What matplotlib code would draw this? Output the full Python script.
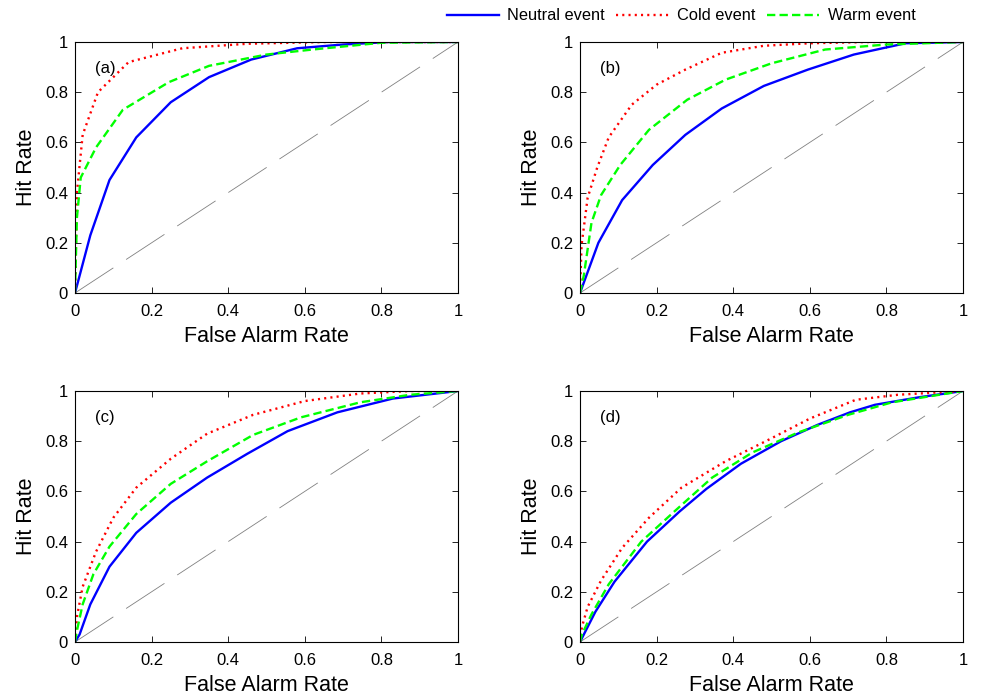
import matplotlib
matplotlib.use("Agg")
import matplotlib.pyplot as plt

plt.rcParams['font.family'] = ['Liberation Sans', 'DejaVu Sans']
plt.rcParams['lines.scale_dashes'] = False

panel_labels = ["(a)", "(b)", "(c)", "(d)"]
series_names = ["Neutral event", "Cold event", "Warm event"]
ticks = [0, 0.2, 0.4, 0.6, 0.8, 1]
tick_labels = ["0", "0.2", "0.4", "0.6", "0.8", "1"]

# Panel (a)
a_neutral_x = [0, 0.04, 0.09, 0.16, 0.25, 0.35, 0.46, 0.58, 0.70, 0.82, 1]
a_neutral_y = [0, 0.23, 0.45, 0.62, 0.76, 0.86, 0.93, 0.975, 0.99, 1.0, 1]
a_cold_x = [0, 0.005, 0.02, 0.06, 0.14, 0.28, 0.45, 0.65, 1]
a_cold_y = [0, 0.40, 0.63, 0.80, 0.92, 0.975, 0.993, 1.0, 1]
a_warm_x = [0, 0.005, 0.015, 0.055, 0.125, 0.245, 0.35, 0.5, 0.62, 0.8, 1]
a_warm_y = [0, 0.30, 0.46, 0.58, 0.73, 0.84, 0.905, 0.95, 0.97, 0.997, 1]

# Panel (b)
b_neutral_x = [0, 0.048, 0.11, 0.19, 0.275, 0.37, 0.48, 0.595, 0.715, 0.85, 1]
b_neutral_y = [0, 0.20, 0.37, 0.51, 0.63, 0.735, 0.825, 0.89, 0.95, 0.995, 1]
b_cold_x = [0, 0.004, 0.02, 0.045, 0.075, 0.135, 0.2, 0.275, 0.37, 0.48, 0.6, 0.75, 1]
b_cold_y = [0, 0.19, 0.38, 0.50, 0.62, 0.75, 0.83, 0.89, 0.957, 0.985, 0.995, 1.0, 1]
b_warm_x = [0, 0.01, 0.03, 0.055, 0.105, 0.18, 0.28, 0.38, 0.5, 0.64, 0.8, 1]
b_warm_y = [0, 0.07, 0.28, 0.39, 0.51, 0.65, 0.77, 0.85, 0.915, 0.97, 0.99, 1]

# Panel (c)
c_neutral_x = [0, 0.012, 0.04, 0.09, 0.16, 0.25, 0.345, 0.45, 0.555, 0.685, 0.83, 1]
c_neutral_y = [0, 0.03, 0.15, 0.30, 0.435, 0.555, 0.655, 0.75, 0.84, 0.915, 0.97, 1]
c_cold_x = [0, 0.005, 0.02, 0.055, 0.1, 0.16, 0.25, 0.345, 0.465, 0.6, 0.745, 0.875, 1]
c_cold_y = [0, 0.10, 0.22, 0.36, 0.495, 0.615, 0.73, 0.83, 0.905, 0.96, 0.99, 1.0, 1]
c_warm_x = [0, 0.005, 0.02, 0.048, 0.09, 0.16, 0.25, 0.345, 0.465, 0.59, 0.745, 0.875, 1]
c_warm_y = [0, 0.045, 0.15, 0.27, 0.38, 0.51, 0.63, 0.72, 0.825, 0.895, 0.955, 0.985, 1]

# Panel (d)
d_neutral_x = [0, 0.015, 0.04, 0.09, 0.175, 0.26, 0.33, 0.42, 0.525, 0.62, 0.705, 0.77, 0.885, 1]
d_neutral_y = [0, 0.045, 0.12, 0.24, 0.40, 0.52, 0.61, 0.71, 0.80, 0.865, 0.915, 0.945, 0.975, 1]
d_cold_x = [0, 0.005, 0.02, 0.055, 0.11, 0.18, 0.265, 0.38, 0.485, 0.6, 0.72, 0.83, 1]
d_cold_y = [0, 0.06, 0.14, 0.245, 0.375, 0.495, 0.615, 0.72, 0.80, 0.89, 0.965, 0.985, 1]
d_warm_x = [0, 0.005, 0.03, 0.075, 0.16, 0.25, 0.345, 0.45, 0.57, 0.7, 0.815, 1]
d_warm_y = [0, 0.03, 0.11, 0.23, 0.40, 0.525, 0.655, 0.755, 0.835, 0.905, 0.955, 1]

panels = [
    (a_neutral_x, a_neutral_y, a_cold_x, a_cold_y, a_warm_x, a_warm_y),
    (b_neutral_x, b_neutral_y, b_cold_x, b_cold_y, b_warm_x, b_warm_y),
    (c_neutral_x, c_neutral_y, c_cold_x, c_cold_y, c_warm_x, c_warm_y),
    (d_neutral_x, d_neutral_y, d_cold_x, d_cold_y, d_warm_x, d_warm_y),
]

fig = plt.figure(figsize=(9.84, 6.99), dpi=100)
W, H = 984, 699
positions = [(75, 42), (580, 42), (75, 391), (580, 391)]
aw, ah = 383, 251

handles = None
for i, (pos, data) in enumerate(zip(positions, panels)):
    x0, y0 = pos
    ax = fig.add_axes([x0 / W, 1 - (y0 + ah) / H, aw / W, ah / H])
    nx, ny, cx, cy, wx, wy = data
    ax.plot([0, 1], [0, 1], color='#808080', lw=0.6, dashes=(33, 11))
    h1, = ax.plot(nx, ny, color='#0000ff', lw=1.7, solid_joinstyle='round')
    h2, = ax.plot(cx, cy, color='#ff0000', lw=1.7, dashes=(1.5, 3.0))
    h3, = ax.plot(wx, wy, color='#00ff00', lw=1.7, dashes=(6, 3))
    handles = [h1, h2, h3]
    ax.set_xlim(0, 1)
    ax.set_ylim(0, 1)
    ax.set_xticks(ticks)
    ax.set_xticklabels(tick_labels)
    ax.set_yticks(ticks)
    ax.set_yticklabels(tick_labels)
    ax.tick_params(direction='in', top=True, right=True, labelsize=12, length=4, width=0.6)
    ax.tick_params(axis='x', pad=8)
    ax.tick_params(axis='y', pad=5)
    for s in ax.spines.values():
        s.set_linewidth(0.8)
    ax.set_xlabel('False Alarm Rate', fontsize=15.5, labelpad=5)
    ax.set_ylabel('Hit Rate', fontsize=15.5, labelpad=6)
    ax.text(0.052, 0.895, panel_labels[i], transform=ax.transAxes, fontsize=12, va='center', ha='left')

fig.legend(handles, series_names, loc='center', bbox_to_anchor=(681 / W, 1 - 16 / H),
           ncol=3, frameon=False, fontsize=11.8, handlelength=3.2, columnspacing=0.7,
           handletextpad=0.5, borderpad=0)

fig.savefig('out.png', dpi=100)
